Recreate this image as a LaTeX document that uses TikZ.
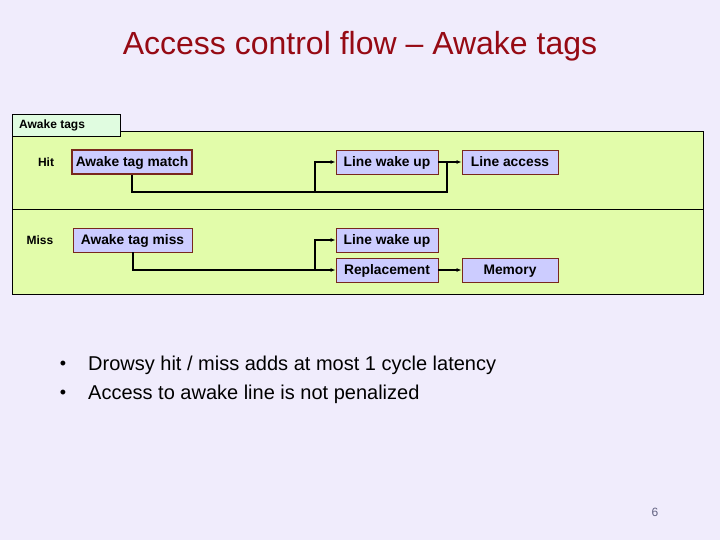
\documentclass[tikz,border=0pt]{standalone}
\usepackage{fontspec}
\setmainfont{Liberation Sans}
\usetikzlibrary{arrows.meta}
\definecolor{bgc}{RGB}{240,236,252}
\definecolor{panelc}{RGB}{226,252,170}
\definecolor{tabc}{RGB}{224,252,224}
\definecolor{boxc}{RGB}{204,204,255}
\definecolor{boxl}{RGB}{120,40,30}
\definecolor{titlec}{RGB}{150,10,20}
\definecolor{numc}{RGB}{96,96,128}
\tikzset{
  stepbox/.style={draw=boxl, fill=boxc, line width=0.9pt, minimum width=102pt, minimum height=24pt, inner sep=0pt, text height=10pt, text depth=1pt, font=\fontsize{13.8}{15}\selectfont\bfseries},
  lab/.style={font=\fontsize{12}{14}\selectfont\bfseries, inner sep=0pt},
  wire/.style={line width=2pt, line cap=butt},
  arr/.style={wire, -{Latex[length=5pt,width=4pt]}},
  bul/.style={font=\fontsize{20}{24}\selectfont, inner sep=0pt, anchor=west},
  dot/.style={font=\fontsize{18}{20}\selectfont, inner sep=0pt}
}
\begin{document}
\begin{tikzpicture}[x=1pt,y=-1pt]
\fill[bgc] (0,0) rectangle (720,540);
\useasboundingbox (0,0) rectangle (720,540);
% title
\node[titlec, font=\fontsize{32}{36}\selectfont, inner sep=0pt] (title) at (360,46) {Access control flow – Awake tags};
% panel
\draw[fill=panelc, line width=1pt] (12,132) rectangle (703,294);
\draw[line width=1pt] (12,210) -- (703,210);
% tab
\draw[fill=tabc, line width=0.8pt] (12,114) rectangle (120,136);
\node[lab, anchor=west] (tabtxt) at (19,125) {Awake tags};
% labels
\node[lab] (hit) at (46,162) {Hit};
\node[lab] (miss) at (40,240) {Miss};
% boxes
\node[stepbox, minimum width=120pt, line width=1.8pt] (match) at (132,162) {Awake tag match};
\node[stepbox, minimum width=119pt] (tmiss) at (132.5,240) {Awake tag miss};
\node[stepbox] (wake1) at (387,162) {Line wake up};
\node[stepbox, minimum width=96pt] (access) at (510,162) {Line access};
\node[stepbox] (wake2) at (387,240) {Line wake up};
\node[stepbox] (repl) at (387,270) {Replacement};
\node[stepbox, minimum width=96pt] (mem) at (510,270) {Memory};
% hit connectors
\coordinate (hj) at (315,192);
\coordinate (he) at (447,192);
\coordinate (ht) at (447,162);
\draw[wire] (match.south) |- (he) -- (ht);
\draw[arr] (hj) |- (wake1.west);
\draw[arr] (wake1.east) -- (access.west);
% miss connectors
\coordinate (mj) at (315,270);
\draw[arr] (tmiss.south) |- (repl.west);
\draw[arr] (mj) |- (wake2.west);
\draw[arr] (repl.east) -- (mem.west);
% bullets
\node[dot] (b1) at (63,365) {•};
\node[bul] (t1) at (88,365) {Drowsy hit / miss adds at most 1 cycle latency};
\node[dot] (b2) at (63,394) {•};
\node[bul] (t2) at (88,394) {Access to awake line is not penalized};
% page number
\node[numc, font=\fontsize{12}{14}\selectfont, inner sep=0pt] (pg) at (655,512) {6};
\end{tikzpicture}
\end{document}
